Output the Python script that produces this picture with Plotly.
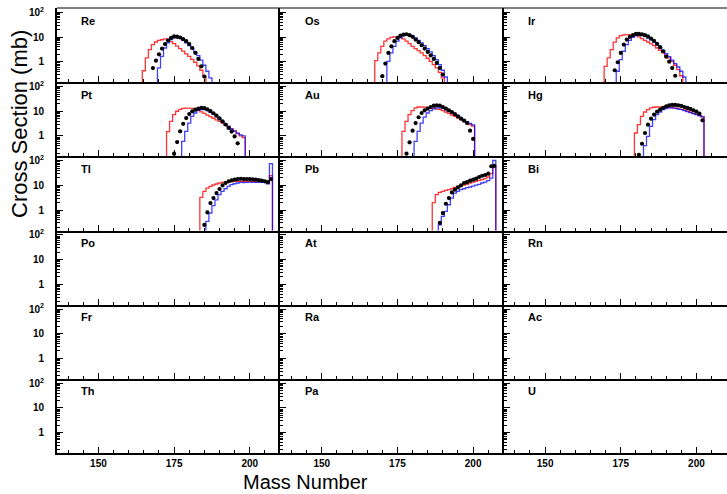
import plotly.graph_objects as go
from plotly.subplots import make_subplots

# Panel labels, row by row (3 columns)
elements = ["Re", "Os", "Ir", "Pt", "Au", "Hg", "Tl", "Pb", "Bi",
            "Po", "At", "Rn", "Fr", "Ra", "Ac", "Th", "Pa", "U"]

# Cross sections (mb); each list starts at the given mass number, one entry per A
re_red_from, re_blue_from, re_dots_from = 165, 170, 168
re_red = [0.43, 1.43, 3.1, 4.95, 6.3, 7.4, 7.8, 8.4, 7.6, 6.5, 5.4, 4.3, 3.4, 2.7,
          2.1, 1.65, 1.25, 0.95, 0.68, 0.45, 0.25]
re_blue = [0.56, 1.66, 3.6, 5.8, 7.9, 9.25, 9.25, 8.7, 7.4, 5.8, 4.5, 3.4, 2.5,
           1.77, 1.16, 0.72, 0.41, 0.22]
re_dots = [0.55, 1.1, 2.0, 3.4, 5.2, 7.3, 9.3, 10.6, 10.4, 9.6, 8.3, 6.8, 5.2,
           3.6, 2.3, 1.3, 0.65, 0.25]

os_red_from, os_blue_from, os_dots_from = 168, 172, 170
os_red = [1.1, 2.27, 4.2, 6.8, 8.4, 9.8, 10.2, 10.2, 9.8, 8.4, 6.8, 5.4, 4.2, 3.4,
          2.8, 2.27, 1.77, 1.38, 1.04, 0.76, 0.56, 0.37, 0.22]
os_blue = [1.04, 2.27, 4.2, 6.8, 9.25, 11.5, 12.6, 12.6, 11.5, 9.25, 7.4, 5.8, 4.5,
           3.4, 2.5, 1.77, 1.22, 0.76, 0.45, 0.24]
os_dots = [0.26, 0.84, 2.27, 4.2, 6.8, 9.25, 11.5, 12.6, 13.0, 11.9, 10.2, 7.9, 6.2,
           4.65, 3.4, 2.5, 1.82, 1.3, 0.89, 0.56, 0.3]

ir_red_from, ir_blue_from, ir_dots_from = 170, 174, 173
ir_red = [0.65, 1.43, 3.1, 6.2, 9.25, 11.5, 12.2, 12.6, 12.6, 12.2, 11.5, 10.2, 8.7,
          7.4, 6.3, 5.3, 4.5, 3.6, 2.9, 2.27, 1.82, 1.43, 1.04, 0.72, 0.48, 0.27]
ir_blue = [0.41, 1.22, 2.66, 4.95, 7.4, 9.8, 11.5, 11.9, 11.5, 10.6, 9.0, 7.7, 6.2,
           4.95, 3.9, 2.9, 2.13, 1.6, 1.16, 0.84, 0.61, 0.41, 0.24]
ir_dots = [0.45, 0.95, 2.27, 4.95, 7.9, 10.2, 11.9, 13.4, 13.4, 13.0, 11.9, 10.6,
           8.7, 7.0, 5.3, 3.9, 2.66, 1.6, 1.0, 0.55, 0.27]

pt_red_from, pt_blue_from, pt_dots_from = 173, 178, 175
pt_red = [1.5, 3.9, 7.3, 10.0, 12.0, 13.0, 13.5, 13.5, 13.2, 12.2, 10.8, 9.4, 8.2,
          7.0, 6.1, 5.2, 4.5, 3.9, 3.3, 2.8, 2.4, 1.9, 1.55, 1.25, 1.0, 0.85]
pt_blue = [0.6, 1.53, 3.3, 6.2, 8.5, 10.9, 11.6, 11.6, 10.6, 9.05, 7.7, 6.2, 5.0,
           3.9, 3.0, 2.44, 1.9, 1.6, 1.3, 1.1, 1.0]
pt_dots = [0.19, 0.56, 1.53, 3.1, 5.3, 7.7, 9.9, 11.6, 12.8, 13.6, 13.4, 12.0, 10.2,
           8.3, 6.6, 5.1, 3.9, 2.9, 2.1, 1.5, 0.95, 0.5]

au_red_from, au_blue_from, au_dots_from = 177, 181, 178
au_red = [1.53, 3.9, 7.3, 10.6, 13.6, 14.9, 14.9, 14.9, 14.5, 13.6, 13.3, 12.4, 11.6,
          10.6, 9.3, 8.2, 7.05, 6.2, 5.3, 4.56, 4.0, 3.4, 2.9, 2.5]
au_blue = [0.6, 1.53, 3.3, 5.8, 8.5, 10.6, 12.4, 13.6, 13.6, 13.0, 11.6, 10.0, 8.8,
           7.6, 6.4, 5.4, 4.5, 3.8, 3.2, 2.8]
au_dots = [0.19, 0.55, 1.63, 3.3, 5.7, 8.5, 10.9, 12.8, 14.9, 16.9, 17.4, 16.9, 14.9,
           12.8, 10.9, 9.3, 7.7, 6.2, 5.0, 4.15, 3.3, 1.63, 0.75]

hg_red_from, hg_blue_from, hg_dots_from = 180, 183, 181
hg_red = [1.31, 2.85, 6.2, 9.3, 11.6, 13.6, 14.5, 14.9, 14.9, 14.9, 14.9, 14.5, 14.0,
          13.6, 12.8, 12.0, 11.3, 10.3, 9.3, 8.2, 7.5, 6.6, 5.9]
hg_blue = [0.4, 0.96, 2.44, 4.56, 7.3, 9.3, 11.6, 12.8, 13.6, 13.6, 13.2, 12.4, 11.6,
           10.6, 9.6, 8.8, 8.0, 7.3, 6.6, 6.0]
hg_dots = [0.17, 0.48, 1.31, 2.85, 5.0, 7.3, 9.6, 11.6, 13.6, 15.8, 17.4, 18.0, 18.0,
           17.4, 16.4, 14.9, 13.6, 12.4, 10.9, 9.6, 8.0, 4.3]

tl_red_from, tl_blue_from, tl_dots_from = 184, 186, 185
tl_red = [3.26, 5.7, 7.8, 9.1, 10.4, 11.4, 12.5, 13.3, 13.6, 14.0, 14.3, 14.6, 14.6,
          14.8, 14.6, 14.5, 14.6, 14.4, 14.6, 14.5, 14.4, 14.2, 12.0, 25.0]
tl_blue = [0.35, 0.75, 1.5, 2.6, 4.2, 5.7, 7.3, 9.1, 10.7, 11.7, 12.5, 13.3, 13.1,
           13.3, 13.5, 13.3, 13.2, 13.3, 13.0, 13.2, 11.5, 76.0]
tl_dots = [0.25, 0.8, 1.92, 3.07, 4.9, 7.1, 10.0, 12.5, 14.6, 16.0, 17.1, 18.1, 18.6,
           18.1, 18.1, 18.1, 17.6, 17.1, 16.5, 15.6, 14.6, 13.6, 18.1]

pb_red_from, pb_blue_from, pb_dots_from = 187, 189, 189
pb_red = [2.0, 4.2, 5.2, 5.7, 6.3, 6.7, 7.3, 8.3, 9.1, 9.8, 10.4, 11.0, 12.5, 13.7,
          14.6, 16.0, 17.1, 18.7, 21.9, 30.0, 60.0]
pb_blue = [0.25, 0.55, 0.88, 1.64, 3.07, 4.9, 5.7, 6.7, 7.3, 8.1, 8.6, 9.4, 10.35,
           11.0, 12.5, 13.7, 15.5, 19.9, 104.0]
pb_dots = [0.3, 0.75, 1.8, 3.07, 5.2, 6.7, 8.3, 10.0, 12.5, 13.7, 15.5, 17.1, 18.7,
           21.9, 24.7, 26.4, 29.9, 60.0, 62.0]

# Axis ticks
mass_ticks = [150, 175, 200]
sigma_ticks = [1, 10, 100]
sigma_ticktext = ["1", "10", "10<sup>2</sup>"]

panels = {
    "Re": (re_red_from, re_red, re_blue_from, re_blue, re_dots_from, re_dots),
    "Os": (os_red_from, os_red, os_blue_from, os_blue, os_dots_from, os_dots),
    "Ir": (ir_red_from, ir_red, ir_blue_from, ir_blue, ir_dots_from, ir_dots),
    "Pt": (pt_red_from, pt_red, pt_blue_from, pt_blue, pt_dots_from, pt_dots),
    "Au": (au_red_from, au_red, au_blue_from, au_blue, au_dots_from, au_dots),
    "Hg": (hg_red_from, hg_red, hg_blue_from, hg_blue, hg_dots_from, hg_dots),
    "Tl": (tl_red_from, tl_red, tl_blue_from, tl_blue, tl_dots_from, tl_dots),
    "Pb": (pb_red_from, pb_red, pb_blue_from, pb_blue, pb_dots_from, pb_dots),
}

FLOOR = 1e-3  # below the visible range, so each histogram rises from the axis


def step_path(first, values):
    """Outline of a unit-width histogram whose bins are centred on integers."""
    xs, ys = [first - 0.5], [FLOOR]
    for i, v in enumerate(values):
        a = first + i
        xs += [a - 0.5, a + 0.5]
        ys += [v, v]
    xs.append(first + len(values) - 0.5)
    ys.append(FLOOR)
    return xs, ys


NROWS, NCOLS = 6, 3
fig = make_subplots(rows=NROWS, cols=NCOLS, horizontal_spacing=0, vertical_spacing=0)

for idx, name in enumerate(elements):
    r, c = idx // NCOLS + 1, idx % NCOLS + 1
    if name in panels:
        rf, rv, bf, bv, df, dv = panels[name]
        x, y = step_path(rf, rv)
        fig.add_trace(go.Scatter(x=x, y=y, mode="lines",
                                 line=dict(color="rgba(255,0,0,0.8)", width=1.3),
                                 showlegend=False, hoverinfo="skip"), row=r, col=c)
        x, y = step_path(bf, bv)
        fig.add_trace(go.Scatter(x=x, y=y, mode="lines",
                                 line=dict(color="rgba(0,0,255,0.75)", width=1.3),
                                 showlegend=False, hoverinfo="skip"), row=r, col=c)
        fig.add_trace(go.Scatter(x=[df + i for i in range(len(dv))], y=dv, mode="markers",
                                 marker=dict(color="black", size=4.2),
                                 showlegend=False), row=r, col=c)
    else:
        # empty panel: a trace with no points keeps its axes drawn
        fig.add_trace(go.Scatter(x=[None], y=[None], mode="markers",
                                 showlegend=False, hoverinfo="skip"), row=r, col=c)
    n = idx + 1
    sfx = "" if n == 1 else str(n)
    fig.add_annotation(text=name, xref=f"x{sfx} domain", yref=f"y{sfx} domain",
                       x=0.1, y=0.83, xanchor="left", yanchor="middle", showarrow=False,
                       font=dict(family="Liberation Sans", size=11, color="black",
                                 weight="bold"))

tick_font = dict(family="Liberation Sans", size=10, color="black", weight="bold")
minor_y = [m * 10 ** e for e in (-1, 0, 1) for m in range(2, 10)]

fig.update_xaxes(range=[136.3, 210.1], showline=True, linewidth=2, linecolor="black",
                 ticks="inside", ticklen=6, tickwidth=1, tickcolor="black",
                 tickmode="array", tickvals=mass_ticks,
                 minor=dict(dtick=5, tick0=0, ticks="inside", ticklen=3, tickwidth=1,
                            tickcolor="black"),
                 showgrid=False, zeroline=False, showticklabels=False,
                 tickfont=tick_font, ticklabelstandoff=0)
fig.update_xaxes(showticklabels=True, row=NROWS)

fig.update_yaxes(type="log", range=[-0.83, 2.18], showline=True, linewidth=2,
                 linecolor="black", ticks="inside", ticklen=6, tickwidth=1,
                 tickcolor="black", tickmode="array", tickvals=sigma_ticks,
                 ticktext=sigma_ticktext,
                 minor=dict(tickmode="array", tickvals=minor_y, ticks="inside",
                            ticklen=3, tickwidth=1, tickcolor="black"),
                 showgrid=False, zeroline=False, showticklabels=False,
                 tickfont=tick_font, ticklabelstandoff=9)
fig.update_yaxes(showticklabels=True, col=1)

# Frame line along the top of the first row
fig.add_shape(type="line", xref="paper", yref="paper", x0=0, x1=1, y0=1, y1=1,
              line=dict(color="black", width=1))

fig.add_annotation(text="Cross Section (mb)", xref="paper", yref="paper",
                   x=-0.057, y=0.739, textangle=-90, showarrow=False,
                   xanchor="center", yanchor="middle",
                   font=dict(family="Liberation Sans", size=22, color="black"))
fig.add_annotation(text="Mass Number", xref="paper", yref="paper",
                   x=0.3716, y=-0.0945, showarrow=False,
                   xanchor="center", yanchor="bottom",
                   font=dict(family="Liberation Sans", size=20, color="black"))

fig.update_layout(width=727, height=494, margin=dict(l=57, r=0, t=8, b=41),
                  paper_bgcolor="white", plot_bgcolor="white")

fig.write_html("out.html")
